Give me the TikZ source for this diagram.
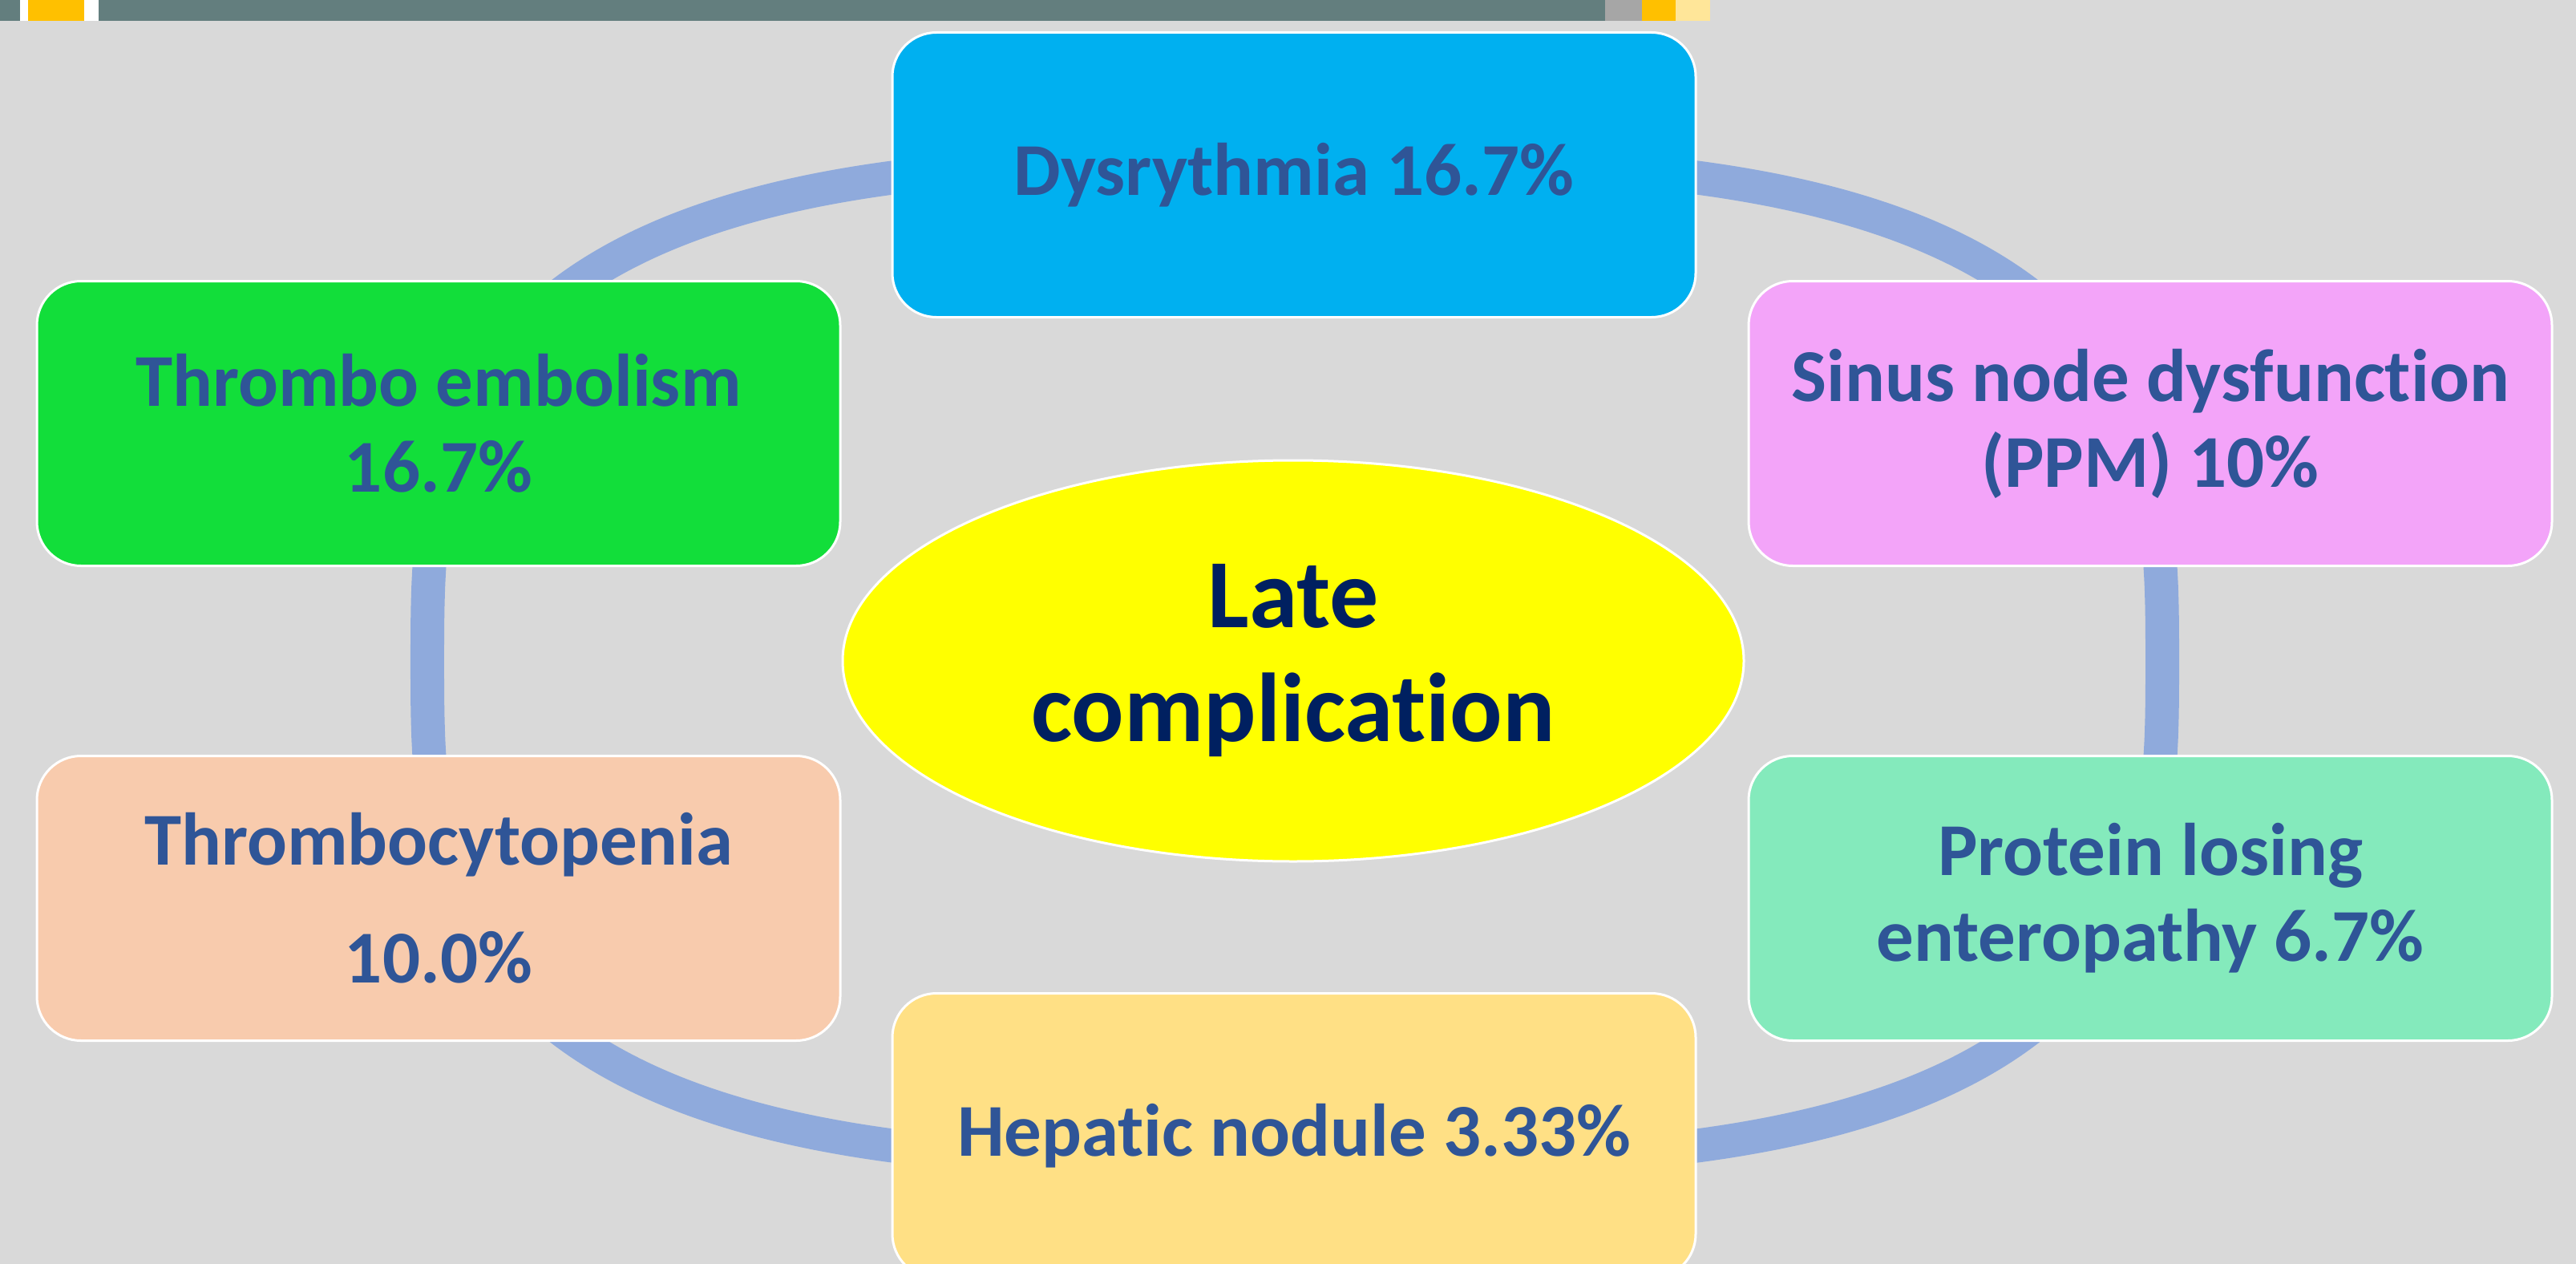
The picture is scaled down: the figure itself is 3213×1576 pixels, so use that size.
\documentclass[tikz,border=0pt]{standalone}
\usepackage{fontspec}
\setmainfont{Carlito}[RawFeature={-liga}]
\usetikzlibrary{shapes.geometric}
\definecolor{bg}{HTML}{D9D9D9}
\definecolor{slate}{HTML}{637E7E}
\definecolor{bargray}{HTML}{A6A6A6}
\definecolor{baryel}{HTML}{FFC000}
\definecolor{barlight}{HTML}{FFE699}
\definecolor{ringblue}{HTML}{8FAADC}
\definecolor{boxtext}{HTML}{2F5597}
\definecolor{centertext}{HTML}{002060}
\definecolor{cblue}{HTML}{00B0F0}
\definecolor{cpink}{HTML}{F3A4F9}
\definecolor{cgreen}{HTML}{12DE3A}
\definecolor{cpeach}{HTML}{F8CBAD}
\definecolor{cmint}{HTML}{84EABC}
\definecolor{cgold}{HTML}{FFE085}
\definecolor{cyel}{HTML}{FFFF00}
\tikzset{
  cbox/.style={draw=white, line width=3pt, rounded corners=55pt,
    minimum width=1002pt, minimum height=355pt, inner sep=0pt,
    align=center, text=boxtext, font=\fontsize{93}{107}\selectfont\bfseries},
  centre/.style={ellipse, draw=white, line width=3pt, fill=cyel,
    minimum width=1124pt, minimum height=500pt, inner sep=0pt,
    align=center, text=centertext, font=\fontsize{122}{142}\selectfont\bfseries},
  ringline/.style={draw=ringblue, line width=42pt},
  barseg/.style={draw=none}
}
\begin{document}
\begin{tikzpicture}[x=1pt,y=-1pt]
\useasboundingbox (0,0) rectangle (3213,1576);
\begin{scope}
\clip (0,0) rectangle (3213,1576);
\fill[bg] (0,0) rectangle (3213,1576);
% top bar
\fill[slate] (0,0) rectangle (25,26);
\fill[white] (25,0) rectangle (35,26);
\fill[baryel] (35,0) rectangle (105,26);
\fill[white] (105,0) rectangle (123,26);
\fill[slate] (123,0) rectangle (2002,26);
\fill[bargray] (2002,0) rectangle (2048,26);
\fill[baryel] (2048,0) rectangle (2090,26);
\fill[barlight] (2090,0) rectangle (2133,26);
% ring
\draw[ringline] plot[domain=0.25:360.25, samples=721]
  ({1615+1082*cos(\x)*abs(cos(\x))^(-1/3)}, {825+625*sin(\x)*abs(sin(\x))^(-1/3)}) -- cycle;
% nodes
\node[cbox, fill=cblue] (dys) at (1614,218) {Dysrythmia 16.7\%};
\node[cbox, fill=cpink] (sinus) at (2682,528) {Sinus node dysfunction\\(PPM) 10\%};
\node[cbox, fill=cmint] (ple) at (2682,1120) {Protein losing\\enteropathy 6.7\%};
\node[cbox, fill=cgold] (hep) at (1614,1416) {Hepatic nodule 3.33\%};
\node[cbox, fill=cpeach] (tcp) at (547,1120) {Thrombocytopenia\\[40pt]10.0\%};
\node[cbox, fill=cgreen] (te) at (547,528) {Thrombo embolism\\16.7\%};
\node[centre] (late) at (1613,824) {Late\\complication};
\end{scope}
\end{tikzpicture}
\end{document}
